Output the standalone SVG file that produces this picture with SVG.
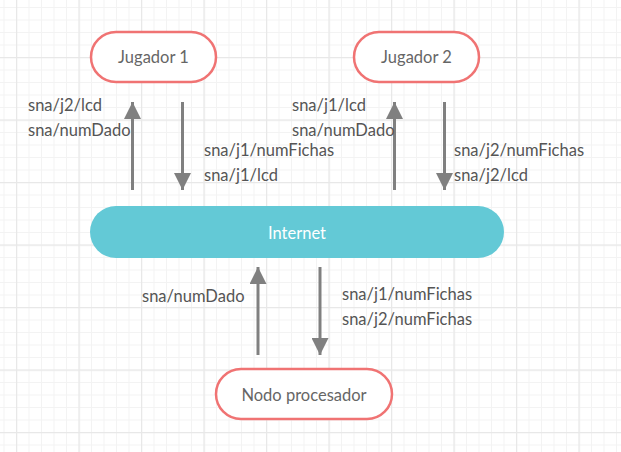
<svg xmlns="http://www.w3.org/2000/svg" width="621" height="452" viewBox="0 0 621 452">
<defs>
<pattern id="minor" x="3.5" y="7" width="12.5" height="12.5" patternUnits="userSpaceOnUse">
<path d="M0 0.5H12.5M0.5 0V12.5" fill="none" stroke="#f3f3f3" stroke-width="1"/>
</pattern>
<pattern id="major" x="16" y="57" width="62.5" height="62.5" patternUnits="userSpaceOnUse">
<path d="M0 0.5H62.5M0.5 0V62.5" fill="none" stroke="#e8e8e8" stroke-width="1.5"/>
</pattern>
<marker id="ah" viewBox="0 0 10 10" refX="10" refY="5" markerWidth="17" markerHeight="17" markerUnits="userSpaceOnUse" orient="auto">
<path d="M0 0L10 5L0 10Z" fill="#808080"/>
</marker>
<style>
.node{fill:#fff;stroke:#f07373;stroke-width:2.5}
.lbl{font-family:Lato,"Open Sans",sans-serif;font-size:16.5px;fill:#666;text-anchor:middle}
.t{font-family:Lato,"Open Sans",sans-serif;font-size:16.5px;fill:#555}
.c{stroke:#808080;stroke-width:3;fill:none;marker-end:url(#ah)}
</style>
</defs>
<rect width="621" height="452" fill="#fff"/>
<rect width="621" height="452" fill="url(#minor)"/>
<rect width="621" height="452" fill="url(#major)"/>
<g id="connectors">
<line class="c" x1="132.5" y1="190" x2="132.5" y2="102"/>
<line class="c" x1="182.5" y1="102" x2="182.5" y2="190"/>
<line class="c" x1="394.5" y1="190" x2="394.5" y2="102"/>
<line class="c" x1="444.5" y1="102" x2="444.5" y2="190"/>
<line class="c" x1="258" y1="355" x2="258" y2="267"/>
<line class="c" x1="320" y1="267" x2="320" y2="355"/>
</g>
<g id="jugador1">
<rect class="node" x="91" y="32" width="125" height="50" rx="25"/>
<text class="lbl" x="153.5" y="63">Jugador 1</text>
</g>
<g id="jugador2">
<rect class="node" x="354" y="32" width="125" height="50" rx="25"/>
<text class="lbl" x="416.5" y="63">Jugador 2</text>
</g>
<g id="internet">
<rect x="90" y="206" width="414" height="52" rx="26" fill="#63c9d6"/>
<text class="lbl" x="297" y="239" style="fill:#fff">Internet</text>
</g>
<g id="nodo">
<rect class="node" x="216" y="369" width="176" height="50" rx="25"/>
<text class="lbl" x="304" y="401">Nodo procesador</text>
</g>
<g id="labels">
<text class="t" x="28" y="111">sna/j2/lcd</text>
<text class="t" x="28" y="136">sna/numDado</text>
<text class="t" x="204" y="156">sna/j1/numFichas</text>
<text class="t" x="204" y="181">sna/j1/lcd</text>
<text class="t" x="292" y="111">sna/j1/lcd</text>
<text class="t" x="292" y="136">sna/numDado</text>
<text class="t" x="454" y="156">sna/j2/numFichas</text>
<text class="t" x="454" y="181">sna/j2/lcd</text>
<text class="t" x="142" y="302">sna/numDado</text>
<text class="t" x="342" y="300">sna/j1/numFichas</text>
<text class="t" x="342" y="325">sna/j2/numFichas</text>
</g>
</svg>
